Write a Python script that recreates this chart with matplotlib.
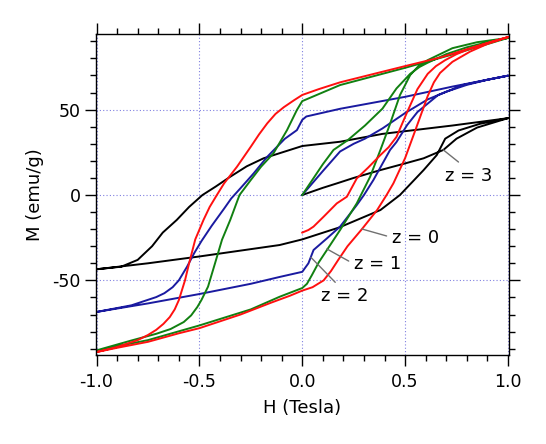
import matplotlib
matplotlib.use("Agg")
import matplotlib.pyplot as plt
from matplotlib.ticker import MultipleLocator

# z = 0 (red)
h0_virgin = [0.0, 0.03, 0.055, 0.104, 0.168, 0.217, 0.265, 0.32, 0.38, 0.42, 0.458, 0.508, 0.56, 0.61,
             0.65, 0.695, 0.75, 0.80, 0.90, 1.0]
m0_virgin = [-22, -20.5, -18.5, -12.7, -4.9, -1.0, 9.7, 16, 23.4, 28, 34, 48, 62, 71,
             75.5, 79, 82.5, 85, 89, 92.5]
h0_down = [1.0, 0.9, 0.816, 0.67, 0.5, 0.35, 0.184, 0.08, 0.0, -0.04, -0.09, -0.13, -0.17, -0.21,
           -0.25, -0.317, -0.38, -0.415, -0.45, -0.48, -0.52, -0.55, -0.57, -0.6, -0.62, -0.644,
           -0.675, -0.71, -0.75, -0.8, -0.9, -1.0]
m0_down = [92.5, 89, 86, 80.5, 75.5, 71, 66, 62, 58.6, 55.5, 51.4, 47.5, 42, 35.5,
           28.3, 16.6, 6.8, 0, -7, -14.6, -26, -40, -50, -61.6, -67, -71.5,
           -75.5, -79, -82, -85, -89, -92]
h0_up = [-1.0, -0.9, -0.75, -0.6, -0.5, -0.4, -0.3, -0.15, -0.06, 0.0, 0.05, 0.104, 0.14, 0.175, 0.22,
         0.29, 0.364, 0.41, 0.443, 0.5, 0.55, 0.61, 0.64, 0.67, 0.73, 0.816, 0.9, 1.0]
m0_up = [-92, -89.5, -86, -81, -78, -74, -70, -63, -59, -56, -54, -50, -44.5, -38, -30,
         -20, -8.8, 0, 6.8, 21.6, 38, 58, 66, 71.5, 78, 84, 88.5, 92.5]

# z = 1 (green)
h1_virgin = [0.0, 0.05, 0.1, 0.152, 0.22, 0.305, 0.39, 0.458, 0.525, 0.57, 0.61, 0.7, 0.8, 0.9, 1.0]
m1_virgin = [0, 9, 18, 26.4, 32, 40.7, 50.6, 62.4, 71, 75, 77.5, 82.5, 86.5, 89.5, 92]
h1_down = [1.0, 0.75, 0.5, 0.184, 0.0, -0.026, -0.074, -0.14, -0.2, -0.25, -0.305, -0.35,
           -0.39, -0.424, -0.458, -0.49, -0.51, -0.54, -0.576, -0.64, -0.71, -0.83, -1.0]
m1_down = [92, 83, 74.5, 64.4, 55, 49.8, 38, 24.4, 16.6, 8.8, 0, -14.6,
           -26.2, -40, -53.7, -61.5, -65.6, -70.5, -74.4, -78.5, -81.3, -85.2, -91]
h1_up = [-1.0, -0.75, -0.5, -0.25, -0.11, 0.0, 0.023, 0.047, 0.08, 0.12, 0.184, 0.265, 0.33,
         0.38, 0.424, 0.475, 0.525, 0.565, 0.61, 0.73, 0.85, 1.0]
m1_up = [-91, -85, -76.4, -67, -59.6, -54.5, -52, -46.9, -39.5, -32.2, -20.5, -4.9, 10.7,
         26.4, 40.7, 58.5, 70.3, 75.5, 79, 86, 89.5, 92]

# z = 2 (blue)
h2_virgin = [0.0, 0.05, 0.1, 0.184, 0.25, 0.305, 0.39, 0.5, 0.61, 0.7, 0.8, 0.9, 1.0]
m2_virgin = [0, 7, 14, 25.5, 30, 33, 39, 48, 56, 60.5, 64.5, 67.5, 69.9]
h2_down = [1.0, 0.73, 0.5, 0.184, 0.02, 0.0, -0.026, -0.085, -0.17, -0.236, -0.3, -0.345,
           -0.38, -0.44, -0.49, -0.525, -0.56, -0.6, -0.63, -0.67, -0.71, -0.83, -1.0]
m2_down = [69.9, 63.5, 57.5, 50.5, 46, 44, 38, 32.9, 22.4, 12.7, 4, -2,
           -8, -18, -27, -34, -42, -50, -54, -57.5, -59.8, -64.6, -68.5]
h2_up = [-1.0, -0.75, -0.5, -0.25, -0.11, 0.0, 0.03, 0.055, 0.12, 0.184, 0.265, 0.3,
         0.346, 0.427, 0.458, 0.51, 0.56, 0.66, 0.78, 0.9, 1.0]
m2_up = [-68.5, -63.5, -58, -52, -48, -45, -40, -32.2, -25.4, -18.5, -5.9, 0,
         8.8, 26.4, 31, 41, 48.6, 58.5, 64.4, 67.5, 69.9]

# z = 3 (black)
h3_virgin = [0.0, 0.1, 0.168, 0.25, 0.38, 0.5, 0.59, 0.686, 0.75, 0.85, 1.0]
m3_virgin = [0, 4.2, 6.8, 10, 14.6, 18.5, 21.5, 26.4, 33, 39.5, 45]
h3_down = [1.0, 0.73, 0.39, 0.184, 0.0, -0.188, -0.27, -0.35, -0.42, -0.485, -0.55, -0.61, -0.678,
           -0.73, -0.8, -0.88, -1.0]
m3_down = [45, 40.7, 35.8, 31.2, 28.7, 21.5, 16.8, 10.7, 5, 0, -7, -14.6, -22,
           -30, -38, -42, -43.5]
h3_up = [-1.0, -0.75, -0.5, -0.11, 0.0, 0.18, 0.38, 0.475, 0.59, 0.654, 0.695, 0.76, 0.864, 1.0]
m3_up = [-43.5, -40, -36, -29.3, -26, -19, -8.8, 0, 14.6, 23.4, 33, 37.8, 41.7, 45]

samples = [
    ("z = 3", "black", h3_virgin + h3_down + h3_up, m3_virgin + m3_down + m3_up),
    ("z = 2", "#1a1aa0", h2_virgin + h2_down + h2_up, m2_virgin + m2_down + m2_up),
    ("z = 1", "#118011", h1_virgin + h1_down + h1_up, m1_virgin + m1_down + m1_up),
    ("z = 0", "#ff1010", h0_virgin + h0_down + h0_up, m0_virgin + m0_down + m0_up),
]

# label text centre, point on curve, where the leader meets the text
labels = {
    "z = 0": ((0.551, -24.9), (0.29, -19.9), (0.0, 0.5)),
    "z = 1": ((0.366, -40.4), (0.12, -31.6), (0.0, 0.5)),
    "z = 2": ((0.206, -59.2), (0.042, -36.5), (0.4, 1.0)),
    "z = 3": ((0.81, 11.4), (0.686, 26.4), (0.4, 1.0)),
}

fig = plt.figure(figsize=(5.46, 4.44), dpi=100)
ax = fig.add_axes([0.1753, 0.2005, 0.7569, 0.7229])

for name, col, h, m in samples:
    ax.plot(h, m, color=col, lw=1.4)

for name, (txt, pt, rp) in labels.items():
    ax.annotate(name, xy=pt, xytext=txt, ha="center", va="center", fontsize=13,
                arrowprops=dict(arrowstyle="-", color="#707070", lw=1.0,
                                shrinkA=2, shrinkB=0, relpos=rp))

ax.set_xlim(-1.004, 1.005)
ax.set_ylim(-93.7, 94.3)
ax.xaxis.set_minor_locator(MultipleLocator(0.1))
ax.yaxis.set_minor_locator(MultipleLocator(10))
ax.set_xticks([-1.0, -0.5, 0.0, 0.5, 1.0])
ax.set_xticklabels(["-1.0", "-0.5", "0.0", "0.5", "1.0"])
ax.set_yticks([-50, 0, 50])
ax.set_yticklabels(["-50", "0", "50"])
ax.tick_params(which="both", direction="out", top=True, right=True, width=1,
               labelsize=12.5)
ax.tick_params(which="major", length=8)
ax.tick_params(which="minor", length=4.5)
ax.tick_params(axis="x", pad=5)
ax.tick_params(axis="y", pad=3)
ax.grid(True, which="major", color="#8080e0", ls=(0, (1, 2)), lw=0.8)
for s in ax.spines.values():
    s.set_linewidth(1.0)

ax.set_xlabel("H (Tesla)", fontsize=13, labelpad=6)
ax.set_ylabel("M (emu/g)", fontsize=13, labelpad=6)

fig.savefig("out.png", dpi=100)
